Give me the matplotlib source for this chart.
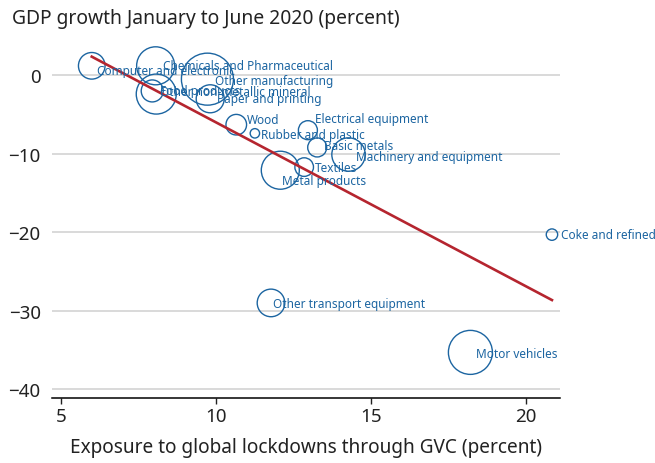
import matplotlib
matplotlib.use("Agg")
from matplotlib import pyplot as plt
import numpy as np

# sectors, exposure (x), GDP growth (y), bubble radius (px)
sectors = ["Computer and electronic", "Chemicals and Pharmaceutical", "Other manufacturing",
           "Food products", "Other non-metallic mineral", "Paper and printing", "Wood",
           "Rubber and plastic", "Electrical equipment", "Basic metals",
           "Machinery and equipment", "Textiles", "Metal products", "Coke and refined",
           "Motor vehicles", "Other transport equipment"]
exposure = [6.0, 8.06, 9.73, 7.95, 8.08, 9.82, 10.66, 11.26, 12.97, 13.27,
            14.28, 12.85, 12.08, 20.84, 18.21, 11.78]
growth = [1.2, 1.2, -0.5, -2.0, -2.4, -3.0, -6.3, -7.4, -7.0, -9.2,
          -10.1, -11.7, -12.1, -20.3, -35.3, -29.0]
size_px = [13.3, 19, 26, 11, 20, 14, 10.3, 4.7, 9.5, 9.5, 16.7, 9.3, 19, 5.7, 22, 13.8]

# fitted trend line
trend_slope = -2.089
trend_intercept = 14.9

# label offsets in pixels (dx, dy)
label_off = [(5, -5), (7, 0), (8, -1), (8, 0), (4, 3), (7, 0), (11, 5), (6, -1),
             (7, 12), (7, 2), (7, -2), (11, 0), (2, -10), (9, 0), (6, -1), (2, -1)]

blue = "#1c65a1"
red = "#b5252f"

plt.rcParams["font.family"] = ["Noto Sans", "DejaVu Sans"]
fig = plt.figure(figsize=(6.55, 4.64), dpi=100)
ax = fig.add_axes([0.079, 0.1394, 0.776, 0.764])

ax.scatter(exposure, growth, s=[(2 * r * 0.72) ** 2 for r in size_px],
           facecolors="none", edgecolors=blue, linewidths=1.0, zorder=3)

xs = np.array([min(exposure), max(exposure)])
ax.plot(xs, trend_intercept + trend_slope * xs, color=red, lw=1.9, zorder=4)

for name, x, y, (dx, dy) in zip(sectors, exposure, growth, label_off):
    ax.annotate(name, (x, y), xytext=(dx, dy), textcoords="offset pixels",
                ha="left", va="center", fontsize=8.5, color=blue, zorder=5)

ax.set_xlim(4.71, 21.1)
ax.set_ylim(-41.15, 4)
ax.set_xticks([5, 10, 15, 20])
ax.set_yticks([0, -10, -20, -30, -40])
ax.set_yticklabels(["0", "\u221210", "\u221220", "\u221230", "\u221240"])
ax.grid(axis="y", color="#d0d0d0", lw=1.1)
ax.set_axisbelow(True)
for s in ["top", "right", "left"]:
    ax.spines[s].set_visible(False)
ax.spines["bottom"].set_linewidth(1.1)
ax.tick_params(axis="y", length=0, pad=8, labelsize=13.5, colors="#222222")
ax.tick_params(axis="x", length=4, width=1, pad=2, labelsize=13.5, colors="#222222")

ax.set_xlabel("Exposure to global lockdowns through GVC (percent)", fontsize=13.7,
              color="#222222", labelpad=9)
fig.text(0.018, 0.96, "GDP growth January to June 2020 (percent)", fontsize=13.9,
         color="#222222", ha="left", va="center")

fig.savefig("out.png", dpi=100)
